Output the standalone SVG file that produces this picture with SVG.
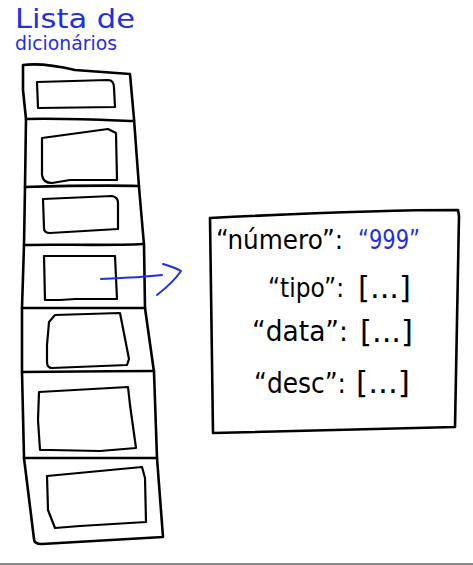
<svg xmlns="http://www.w3.org/2000/svg" width="473" height="565" viewBox="0 0 473 565">
<style>
.ink{fill:none;stroke:#000;stroke-width:2.6;stroke-linecap:round;stroke-linejoin:round}
.cell{fill:none;stroke:#000;stroke-width:2.2;stroke-linecap:round;stroke-linejoin:round}
.blue{fill:none;stroke:#1f2fe6;stroke-width:2;stroke-linecap:round;stroke-linejoin:round}
.t{font-family:"DejaVu Sans",sans-serif;fill:#000}
.tb{font-family:"DejaVu Sans",sans-serif;fill:#1f2fe6}
.br{font-family:"DejaVu Sans",sans-serif;fill:#000}
</style>
<rect width="473" height="565" fill="#fff"/>
<text class="tb" x="15" y="28" font-size="27" textLength="120" lengthAdjust="spacingAndGlyphs">Lista de</text>
<text class="tb" x="15" y="50" font-size="19" textLength="102" lengthAdjust="spacingAndGlyphs">dicionários</text>
<g id="lista">
<path class="ink" d="M23,65 C40,63 58,66 75,70 L130,74 L134,119 L139,187 L144,245 L145,308 L154,372 L157,458 L163,537 L42,544 Q34,544 34,539 L24,458 L22,372 L22,308 L24,245 L25,187 L26,119 L23,90 Z"/>
<path class="ink" d="M26,119 C60,118 100,120 134,121"/>
<path class="ink" d="M25,187 C60,186 100,185 139,186"/>
<path class="ink" d="M24,245 C60,244 100,246 144,244"/>
<path class="ink" d="M22,308 C60,308 100,308 145,308"/>
<path class="ink" d="M22,372 C60,372 110,371 154,371"/>
<path class="ink" d="M24,458 C70,458 120,458 157,458"/>
<g id="item1"><path class="cell" d="M37,82 L108,80 Q114,80 114,88 L115,107 L38,108 Z"/></g>
<g id="item2"><path class="cell" d="M42,138 L108,129 L116,133 L117,180 L70,180 L52,183 Q43,183 42,175 Z"/></g>
<g id="item3"><path class="cell" d="M43,199 L112,196 Q118,197 118,203 L118,229 L50,233 Q44,233 44,228 Z"/></g>
<g id="item4"><path class="cell" d="M44,256 L115,256 L117,299 L75,299 L60,300 L45,300 Z"/></g>
<g id="item5"><path class="cell" d="M49,322 L55,315 L120,313 L129,359 L127,365 L52,368 Q47,368 47,362 L47,345 Z"/></g>
<g id="item6"><path class="cell" d="M39,392 L128,387 L130,405 L136,448 L100,451 L50,450 L40,450 L38,420 Z"/></g>
<g id="item7"><path class="cell" d="M47,476 L142,467 L145,478 L146,522 L80,526 L55,528 L48,510 Z"/></g>
</g>
<g id="connectors">
<path class="blue" d="M101,279 C125,278 145,277 162,275"/>
<path class="blue" d="M163,264 C170,266 176,268 181,271 C175,280 166,288 157,295"/>
</g>
<g id="dicionario">
<path class="ink" d="M210,218 C290,214 380,210 458,210 L459,216 L455,427 L213,433 C212,360 211,290 210,218 Z"/>
<text class="t" x="216" y="249" font-size="26" textLength="127" lengthAdjust="spacingAndGlyphs">“número”:</text>
<text class="tb" x="358" y="249" font-size="26" textLength="62" lengthAdjust="spacingAndGlyphs">“999”</text>
<text class="t" x="268" y="297" font-size="27" textLength="76" lengthAdjust="spacingAndGlyphs">“tipo”:</text>
<text class="br" x="358" y="298" font-size="31" textLength="53" lengthAdjust="spacingAndGlyphs">[...]</text>
<text class="t" x="252" y="341" font-size="28" textLength="96" lengthAdjust="spacingAndGlyphs">“data”:</text>
<text class="br" x="360" y="342" font-size="31" textLength="53" lengthAdjust="spacingAndGlyphs">[...]</text>
<text class="t" x="254" y="393" font-size="28" textLength="92" lengthAdjust="spacingAndGlyphs">“desc”:</text>
<text class="br" x="356" y="393" font-size="31" textLength="54" lengthAdjust="spacingAndGlyphs">[...]</text>
</g>
<rect x="0" y="563" width="473" height="2" fill="#888"/>
</svg>
